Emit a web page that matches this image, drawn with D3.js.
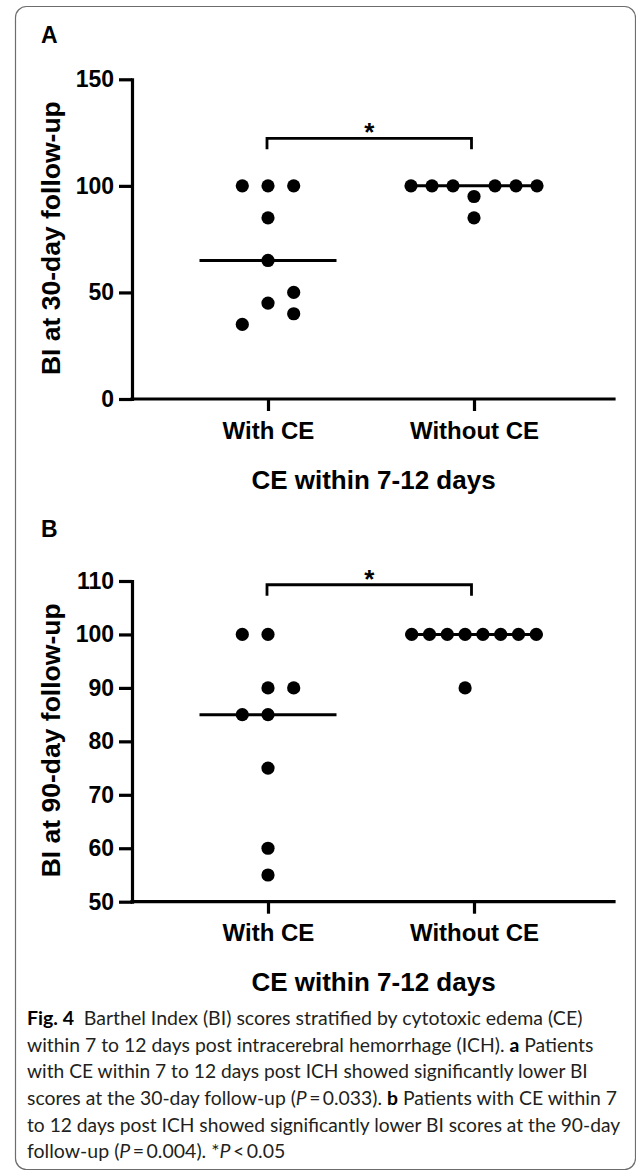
<!DOCTYPE html>
<html lang="en">
<head>
    <meta charset="UTF-8">
    <title>Fig. 4</title>
    <style>
        html,body{
            margin: 0;
            padding: 0;
            background: #fff;
        }
        svg{ display: block; }
        .axis text{
            font-family: "Liberation Sans", Arial, sans-serif;
            font-weight: bold;
            font-size: 23px;
            fill: #000;
        }
        .axis path, .axis line{
            stroke: #000;
            stroke-width: 3.2;
        }
        .bold{
            font-family: "Liberation Sans", Arial, sans-serif;
            font-weight: bold;
            fill: #000;
        }
        .caption{
            font-family: Lato, "Open Sans", sans-serif;
            font-size: 18.5px;
            fill: #231f20;
        }
    </style>
</head>
<body>
<svg id="fig" width="636" height="1171"></svg>

<script src="https://cdn.jsdelivr.net/npm/d3@7"></script>
<script>
    // groups on the x axis
    const groups = ["With CE", "Without CE"]

    // A: BI at 30-day follow-up
    const ticksA = [0, 50, 100, 150]
    const bi30With = [100, 100, 100, 85, 65, 45, 50, 40, 35]
    const bi30WithSlot = [-1, 0, 1, 0, 0, 0, 1, 1, -1]
    const bi30Without = [100, 100, 100, 100, 100, 100, 95, 85]
    const bi30WithoutSlot = [-3, -2, -1, 1, 2, 3, 0, 0]

    // B: BI at 90-day follow-up
    const ticksB = [50, 60, 70, 80, 90, 100, 110]
    const bi90With = [100, 100, 90, 90, 85, 85, 75, 60, 55]
    const bi90WithSlot = [-1, 0, 0, 1, -1, 0, 0, 0, 0]
    const bi90Without = [100, 100, 100, 100, 100, 100, 100, 100, 90]
    const bi90WithoutSlot = [-3.5, -2.5, -1.5, -0.5, 0.5, 1.5, 2.5, 3.5, -0.5]

    const xTitle = "CE within 7-12 days"
    const star = "*"

    // caption, line by line: [text, style]
    const caption = [
        [["Fig. 4", "b"], ["\u2002Barthel Index (BI) scores stratified by cytotoxic edema (CE)", ""]],
        [["within 7 to 12 days post intracerebral hemorrhage (ICH). ", ""], ["a", "b"], [" Patients", ""]],
        [["with CE within 7 to 12 days post ICH showed significantly lower BI", ""]],
        [["scores at the 30-day follow-up (", ""], ["P", "i"], ["\u2009=\u20090.033). ", ""], ["b", "b"], [" Patients with CE within 7", ""]],
        [["to 12 days post ICH showed significantly lower BI scores at the 90-day", ""]],
        [["follow-up (", ""], ["P", "i"], ["\u2009=\u20090.004). *", ""], ["P", "i"], ["\u2009<\u20090.05", ""]]
    ]

    // ---- layout ----
    const plotLeft = 132, plotRight = 614
    const panels = [
        {letter: "A", label: "BI at 30-day follow-up", domain: [0, 150], ticks: ticksA,
            top: 79.3, bottom: 399, letterY: 43, bracket: 122.3, spread: [25.7, 21],
            values: [bi30With, bi30Without], slots: [bi30WithSlot, bi30WithoutSlot]},
        {letter: "B", label: "BI at 90-day follow-up", domain: [50, 110], ticks: ticksB,
            top: 581, bottom: 901.7, letterY: 537, bracket: 109.3, spread: [25.7, 17.8],
            values: [bi90With, bi90Without], slots: [bi90WithSlot, bi90WithoutSlot]}
    ]

    const svg = d3.select("#fig")

    // frame of the figure box
    svg.append("rect")
        .attr("x", 15.5).attr("y", 6.5)
        .attr("width", 620).attr("height", 1163)
        .attr("rx", 11)
        .attr("fill", "none")
        .attr("stroke", "#6d6d6d")
        .attr("stroke-width", 1.2)

    const x = d3.scalePoint().domain(groups).range([268, 474])

    panels.forEach(p => {
        const y = d3.scaleLinear().domain(p.domain).range([p.bottom, p.top])
        const g = svg.append("g")

        g.append("text").attr("class", "bold")
            .attr("x", 41).attr("y", p.letterY)
            .style("font-size", "23px")
            .text(p.letter)

        // y axis
        const ya = g.append("g").attr("class", "axis")
            .attr("transform", `translate(${plotLeft},0)`)
            .call(d3.axisLeft(y).tickValues(p.ticks).tickSize(13).tickSizeOuter(0).tickPadding(5))
        ya.select(".domain").attr("stroke-linecap", "square")

        // x axis
        const xa = g.append("g").attr("class", "axis")
            .attr("transform", `translate(0,${p.bottom})`)
            .call(d3.axisBottom(x).tickSize(12).tickSizeOuter(0))
        xa.select(".domain").remove()
        xa.append("line")
            .attr("x1", plotLeft).attr("x2", plotRight)
            .attr("stroke-linecap", "square")
        xa.selectAll(".tick text").attr("y", 39.5).attr("dy", null).style("font-size", "24px")

        g.append("text").attr("class", "bold")
            .attr("x", 373.5).attr("y", p.bottom + 89.5)
            .attr("text-anchor", "middle")
            .style("font-size", "26px")
            .text(xTitle)

        g.append("text").attr("class", "bold")
            .attr("transform", `translate(60,${(p.top + p.bottom) / 2 - 1}) rotate(-90)`)
            .attr("text-anchor", "middle")
            .style("font-size", "26.5px")
            .text(p.label)

        // medians
        groups.forEach((grp, i) => {
            const m = d3.median(p.values[i])
            g.append("line")
                .attr("x1", x(grp) - 68.5).attr("x2", x(grp) + 68.5)
                .attr("y1", y(m)).attr("y2", y(m))
                .attr("stroke", "#000").attr("stroke-width", 3)
        })

        // points
        groups.forEach((grp, i) => {
            const pts = p.values[i].map((v, k) => ({v: v, s: p.slots[i][k]}))
            g.selectAll(null).data(pts).enter().append("circle")
                .attr("cx", d => x(grp) + d.s * p.spread[i])
                .attr("cy", d => y(d.v))
                .attr("r", 6.6)
                .attr("fill", "#000")
        })

        // significance bracket
        const by = y(p.bracket)
        const x0 = x(groups[0]) - 1, x1 = x(groups[1]) - 2.5
        g.append("path")
            .attr("d", `M${x0},${by + 11}V${by}H${x1}V${by + 11}`)
            .attr("fill", "none").attr("stroke", "#000").attr("stroke-width", 2.8)
        g.append("text").attr("class", "bold")
            .attr("x", (x0 + x1) / 2).attr("y", by + 3)
            .attr("text-anchor", "middle")
            .style("font-size", "26px")
            .text(star)
    })

    // caption
    const capX = 27, capY = 1025, capStep = 26.65
    const capEnds = [582.4, 593.3, 587.7, 616.9, 620.1, 285.3]
    caption.forEach((line, i) => {
        const t = svg.append("text").attr("class", "caption")
            .attr("x", capX).attr("y", capY + i * capStep)
            .attr("textLength", capEnds[i] - capX)
            .attr("lengthAdjust", "spacingAndGlyphs")
        line.forEach(seg => {
            const ts = t.append("tspan").text(seg[0])
            if (seg[1] === "b") ts.style("font-weight", "bold").style("fill", "#000")
            if (seg[1] === "i") ts.style("font-style", "italic")
        })
    })
</script>
</body>
</html>
